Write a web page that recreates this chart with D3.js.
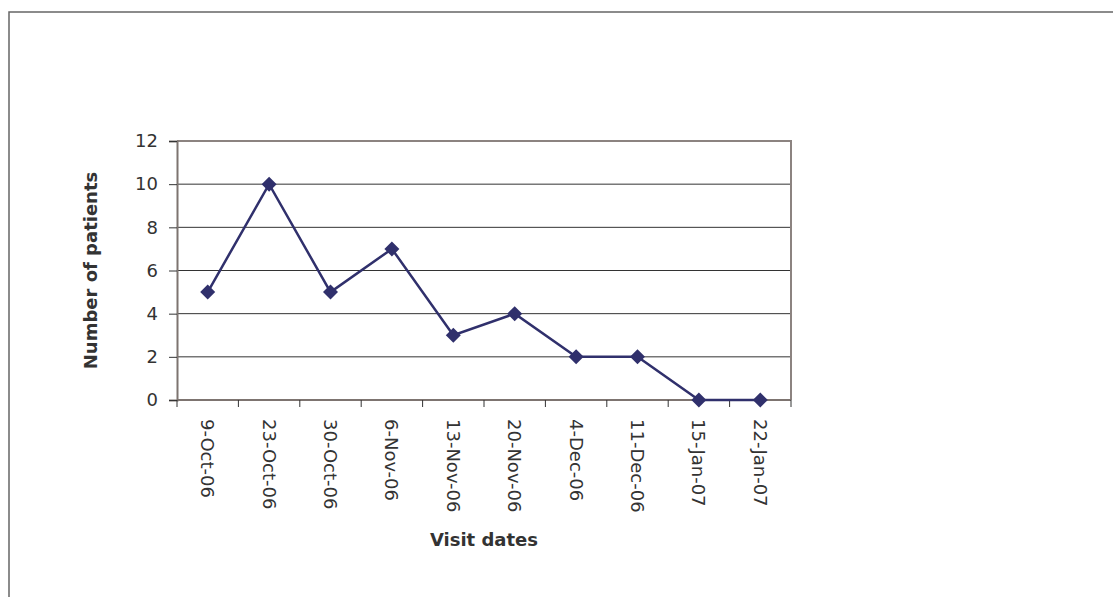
<!DOCTYPE html>
<html lang="en">
<head>
    <meta charset="UTF-8">
    <title>Number of patients by visit date</title>
    <script src="https://d3js.org/d3.v7.min.js"></script>
    <style>
        body { margin: 0; background: #fff; }
        text { font-family: "DejaVu Sans", Verdana, sans-serif; fill: #333; }
    </style>
</head>
<body>
<svg width="1113" height="597"></svg>
<script>
    // visit dates and patient counts
    var dates = ["9-Oct-06", "23-Oct-06", "30-Oct-06", "6-Nov-06", "13-Nov-06",
                 "20-Nov-06", "4-Dec-06", "11-Dec-06", "15-Jan-07", "22-Jan-07"];
    var patients = [5, 10, 5, 7, 3, 4, 2, 2, 0, 0];
    var yTicks = [0, 2, 4, 6, 8, 10, 12];

    var svg = d3.select("svg"),
        plot = {left: 177, right: 791, top: 141, bottom: 400};

    // outer chart frame (only top and left edges fall inside the picture)
    svg.append("rect")
        .attr("x", 9).attr("y", 12)
        .attr("width", 1300).attr("height", 800)
        .attr("fill", "none")
        .attr("stroke", "#666")
        .attr("stroke-width", 1.5);

    var x = d3.scaleBand().domain(dates).range([plot.left, plot.right]),
        y = d3.scaleLinear().domain([0, 12]).range([plot.bottom, plot.top]);

    // gridlines
    svg.append("g")
        .selectAll("line")
        .data(yTicks.filter(d => d > 0 && d < 12))
        .join("line")
        .attr("x1", plot.left).attr("x2", plot.right)
        .attr("y1", d => y(d)).attr("y2", d => y(d))
        .attr("stroke", "#333")
        .attr("stroke-width", 1);

    // plot area border, top and right
    svg.append("path")
        .attr("d", "M" + plot.left + "," + y(12) + "H" + plot.right + "V" + plot.bottom)
        .attr("fill", "none")
        .attr("stroke", "#8c8380")
        .attr("stroke-width", 2);

    // y axis
    var yAxis = svg.append("g")
        .attr("transform", "translate(" + plot.left + ",0)")
        .call(d3.axisLeft(y).tickValues(yTicks).tickSize(8).tickPadding(11));
    yAxis.select(".domain").attr("stroke", "#7d7470").attr("stroke-width", 2);
    yAxis.selectAll(".tick line").attr("stroke", "#333");
    yAxis.selectAll(".tick text")
        .attr("font-size", 18)
        .attr("font-family", null)
        .attr("fill", "#333");

    // x axis: ticks at band edges, labels rotated at band centres
    var xAxis = svg.append("g")
        .attr("transform", "translate(0," + plot.bottom + ")");
    xAxis.append("line")
        .attr("x1", plot.left).attr("x2", plot.right)
        .attr("stroke", "#7d7470").attr("stroke-width", 2);
    xAxis.selectAll(".edge")
        .data(dates.concat(["end"]))
        .join("line")
        .attr("class", "edge")
        .attr("x1", (d, i) => i < dates.length ? x(d) : plot.right)
        .attr("x2", (d, i) => i < dates.length ? x(d) : plot.right)
        .attr("y1", 0).attr("y2", 7)
        .attr("stroke", "#333");
    xAxis.selectAll(".lbl")
        .data(dates)
        .join("text")
        .attr("class", "lbl")
        .attr("transform", d => "translate(" + (x(d) + x.bandwidth() / 2) + ",19) rotate(90)")
        .attr("dy", "0.36em")
        .attr("font-size", 18)
        .text(d => d);

    // series
    var line = d3.line()
        .x((d, i) => x(dates[i]) + x.bandwidth() / 2)
        .y(d => y(d));

    svg.append("path")
        .datum(patients)
        .attr("d", line)
        .attr("fill", "none")
        .attr("stroke", "#30306c")
        .attr("stroke-width", 2.5);

    svg.append("g")
        .selectAll("path")
        .data(patients)
        .join("path")
        .attr("transform", (d, i) => "translate(" + (x(dates[i]) + x.bandwidth() / 2) + "," + y(d) + ")")
        .attr("d", "M0,-7.5L7.5,0L0,7.5L-7.5,0Z")
        .attr("fill", "#30306c");

    // axis titles
    svg.append("text")
        .attr("transform", "translate(97," + ((plot.top + plot.bottom) / 2) + ") rotate(-90)")
        .attr("text-anchor", "middle")
        .attr("font-size", 18)
        .attr("font-weight", "bold")
        .text("Number of patients");

    svg.append("text")
        .attr("x", (plot.left + plot.right) / 2)
        .attr("y", 546)
        .attr("text-anchor", "middle")
        .attr("font-size", 18)
        .attr("font-weight", "bold")
        .text("Visit dates");
</script>
</body>
</html>
